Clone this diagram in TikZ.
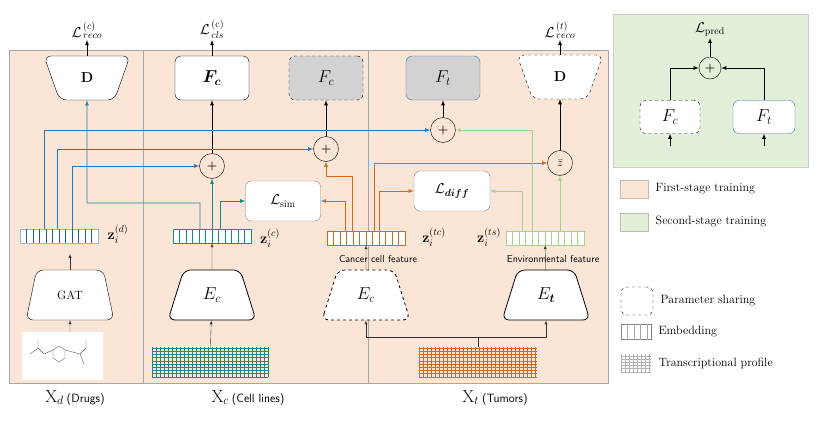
\documentclass[tikz,border=0pt]{standalone}
\usepackage{amsmath}
\usepackage{bm}
\usetikzlibrary{arrows.meta, positioning, shapes.geometric, calc}
\definecolor{peach}{HTML}{FBE5D6}
\definecolor{pale}{HTML}{E2F0D9}
\definecolor{bl}{HTML}{2E75B6}
\definecolor{tl}{HTML}{168A8A}
\definecolor{org}{HTML}{D2691E}
\definecolor{lgr}{HTML}{A9D18E}
\def\mf{\ensuremath\mathbf}
\tikzset{
  box/.style={draw, rounded corners=6pt, fill=white, minimum width=74pt, minimum height=44pt, font=\LARGE},
  trap/.style={draw, trapezium, trapezium stretches=true, trapezium angle=72, rounded corners=7pt, fill=white, minimum width=80pt, minimum height=46pt, font=\Large},
  circ/.style={draw, circle, fill=peach, minimum size=25pt, inner sep=0pt, font=\large},
  emb/.style={draw=#1, minimum width=78pt, minimum height=14pt, inner sep=0pt, fill=white},
  arr/.style={-latex, thick},
  lbl/.style={font=\Large, inner sep=1pt},
  leg/.style={right=4pt of #1, font=\large},
}
\newcommand{\embfill}[3]{\foreach \k in {1,...,#3} \draw[#2] ($(#1.south west)+(\k*6.5,0)$) -- ($(#1.north west)+(\k*6.5,0)$);}
\newcommand{\gridfill}[4]{
  \foreach \k in {0,...,#3} \draw[#2, thin] ($(#1.south west)+(\k*4,0)$) -- ($(#1.north west)+(\k*4,0)$);
  \foreach \k in {0,...,#4} \draw[#2, thin] ($(#1.south west)+(0,-\k*3.2)$) -- ($(#1.south east)+(0,-\k*3.2)$);}
\begin{document}
\begin{tikzpicture}[x=1pt, y=-1pt]
  \useasboundingbox (0,0) rectangle (818,423);
  % panels
  \draw[gray!70, fill=peach] (9,50) rectangle (608,383);
  \draw[gray!70] (143,50) -- (143,383) (368,50) -- (368,383);
  \draw[gray!40, fill=pale] (613,14) rectangle (808,167);
  % heads
  \node[trap, shape border rotate=180, minimum width=86pt, minimum height=44pt] (dd) at (87,78) {$\mf{D}$};
  \node[box] (fc) at (212,78) {$\bm{F_c}$};
  \node[box, dashed, fill=gray!35] (fcs) at (326,78) {$F_c$};
  \node[box, draw=bl, fill=gray!35] (ft) at (443,78) {$F_t$};
  \node[trap, dashed, shape border rotate=180, minimum width=86pt, minimum height=44pt] (dt) at (560,77) {$\mf{D}$};
  \node[lbl, anchor=south] (lrc) at (87,40) {$\mathcal{L}^{\,(c)}_{\,reco}$};
  \node[lbl, anchor=south] (lcls) at (212,40) {$\mathcal{L}^{\,(\mathrm{c})}_{\,cls}$};
  \node[lbl, anchor=south] (lrt) at (560,40) {$\mathcal{L}^{\,(t)}_{\,reco}$};
  \draw[arr] (dd) -- (lrc);
  \draw[arr] (fc) -- (lcls);
  \draw[arr] (dt) -- (lrt);
  % fusion
  \node[circ] (p1) at (212,166) {$\bm +$};
  \node[circ] (p2) at (326,149) {$\bm +$};
  \node[circ] (p3) at (443,130) {$\bm +$};
  \node[circ] (zb) at (560,163) {$\bar z$};
  \draw[arr] (p1) -- (fc);
  \draw[arr] (p2) -- (fcs);
  \draw[arr] (p3) -- (ft);
  \draw[arr] (zb) -- (dt);
  \node[box, draw=gray, minimum width=75pt, minimum height=40pt, font=\Large] (lsim) at (283,201) {$\mathcal{L}_{\mathrm{sim}}$};
  \node[box, draw=gray, minimum width=76pt, minimum height=40pt, font=\Large] (ldiff) at (452,191) {$\mathcal{L}_{\bm{diff}}$};
  % embeddings
  \node[emb=bl!50] (zd) at (59,236) {}; \embfill{zd}{bl!80!black}{11}
  \node[emb=tl] (zc) at (212,236) {}; \embfill{zc}{tl}{11}
  \node[emb=org] (ztc) at (366,238) {}; \embfill{ztc}{org}{11}
  \node[emb=lgr] (zts) at (545,238) {}; \embfill{zts}{lgr}{11}
  \node[font=\Large] (lzd) at (118,234) {$\mf{z}_i^{(d)}$};
  \node[font=\Large] (lzc) at (270,238) {$\mf{z}_i^{(c)}$};
  \node[font=\Large] (lztc) at (434,237) {$\mf{z}_i^{(tc)}$};
  \node[font=\Large] (lzts) at (489,237) {$\mf{z}_i^{(ts)}$};
  \node[font=\sffamily] (cf) at (378,259) {Cancer cell feature};
  \node[font=\sffamily] (ef) at (553,259) {Environmental feature};
  % encoders
  \node[trap, minimum width=88pt, minimum height=50pt] (gat) at (70,295) {\large GAT};
  \node[trap, thick, minimum width=88pt, minimum height=50pt] (ec) at (212,295) {\LARGE$E_c$};
  \node[trap, dashed, thick, minimum width=88pt, minimum height=50pt] (ecs) at (366,295) {\LARGE$E_c$};
  \node[trap, thick, minimum width=88pt, minimum height=50pt] (et) at (546,295) {\LARGE$E_{\bm t}$};
  % inputs
  \node[fill=white, minimum width=81pt, minimum height=48pt] (mol) at (62,356) {};
  \draw[gray!70!black, thin] (53,350) -- ++(6,-4) -- ++(6,4) -- ++(0,8) -- ++(-6,4) -- ++(-6,-4) -- cycle
    (53,350) -- (44,354) -- (38,348) -- (38,340) (38,348) -- (30,354) (65,350) -- (80,354) -- (86,348) -- (86,340) (80,354) -- (84,364);
  \node[minimum width=116pt, minimum height=29pt, inner sep=0pt] (gc) at (210,362) {}; \gridfill{gc}{tl}{29}{9}
  \node[minimum width=117pt, minimum height=29pt, inner sep=0pt] (gt) at (478,362) {}; \gridfill{gt}{org}{29}{9}
  \node[font=\LARGE] (xd) at (75,398) {X$_d$\,\sffamily\large(Drugs)};
  \node[font=\LARGE] (xc) at (248,398) {X$_c$\,\sffamily\large(Cell lines)};
  \node[font=\LARGE] (xt) at (495,398) {X$_t$\,\sffamily\large(Tumors)};
  \tikzset{up/.style={-latex, gray!40!black}}
  \draw[up] (mol.north -| gat) -- (gat);
  \draw[up] (gat.north -| zd.south) ++(11,0) -- ++(0,-16);
  \draw[up] (gc) -- (ec);
  \draw[up] (ec) -- (zc);
  \draw[up] (ecs) -- (ztc);
  \draw[up] (et) -- (zts);
  \draw[gray!40!black] (gt.north) -- ++(0,-10) coordinate (jt);
  \draw[up] (jt) -| (ecs);
  \draw[up] (jt) -| (et);
  % drug links
  \draw[arr, draw=bl] (zd.north west)++(25,0) |- (p3);
  \draw[arr, draw=bl] (zd.north west)++(38,0) |- (p2);
  \draw[arr, draw=bl] (zd.north west)++(53,0) |- (p1);
  % cell line links
  \draw[arr, tl] (zc.north)++(-12,0) |- (87,203) -- (dd.south);
  \draw[arr, tl] (zc) -- (p1);
  \draw[arr, tl] (zc.north)++(8,0) |- (lsim);
  % tumour links
  \draw[arr, org] (ztc.north)++(-14,0) |- (326,176) -- (p2);
  \draw[arr, org] (ztc.north)++(-21,0) |- (lsim.east);
  \draw[arr, org] (ztc.north)++(8,0) |- (zb);
  \draw[arr, org] (ztc.north)++(13,0) |- (ldiff);
  \draw[arr, lgr] (zts.north)++(-13,0) |- (p3);
  \draw[arr, lgr] (zts.north)++(-23,0) |- (ldiff);
  \draw[arr, lgr] (zts.north)++(15,0) -- (zb);
  % second stage
  \node[lbl, anchor=south] (lp) at (710,38) {$\mathcal{L}_{\mathrm{pred}}$};
  \node[circ, fill=pale, minimum size=22pt] (pp) at (710,68) {$\bm +$};
  \node[box, dashed, minimum width=60pt, minimum height=33pt] (fcp) at (670,117) {$F_c$};
  \node[box, draw=bl, minimum width=62pt, minimum height=33pt] (ftp) at (764,117) {$F_t$};
  \draw[arr] (pp) -- (lp);
  \draw[arr] (fcp) |- (pp);
  \draw[arr] (ftp) |- (pp);
  \coordinate (ic) at (670,146); \coordinate (it) at (764,146);
  \draw[arr] (ic) -- (fcp);
  \draw[arr] (it) -- (ftp);
  % legend
  \node[draw=peach!80!black, fill=peach, minimum width=28pt, minimum height=18pt] (s1) at (634,189) {};
  \node[leg=s1] (t1) {First-stage training};
  \node[draw=pale!80!black, fill=pale, minimum width=28pt, minimum height=18pt] (s2) at (634,222) {};
  \node[leg=s2] (t2) {Second-stage training};
  \node[draw, dashed, rounded corners=6pt, minimum width=32pt, minimum height=28pt] (s3) at (637,301) {};
  \node[leg=s3] (t3) {Parameter sharing};
  \node[draw=gray, minimum width=30pt, minimum height=15pt, inner sep=0pt] (s4) at (636,332) {}; \embfill{s4}{gray!70}{4}
  \node[leg=s4] (t4) {Embedding};
  \node[minimum width=30pt, minimum height=17pt, inner sep=0pt] (s5) at (636,363) {}; \gridfill{s5}{gray!60}{7}{5}
  \node[leg=s5] (t5) {Transcriptional profile};
\end{tikzpicture}
\end{document}
